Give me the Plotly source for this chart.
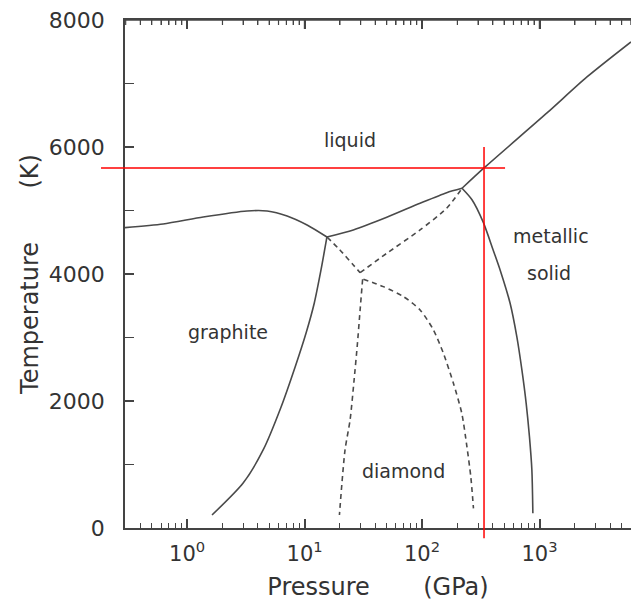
import numpy as np
import plotly.graph_objects as go

# ---------------- data (pressure in GPa, temperature in K) ----------------
graphite_melt_P = [0.296, 0.625, 1.37, 3.24, 4.8, 7.1, 10.5, 15.5]
graphite_melt_T = [4730, 4788, 4898, 4993, 4993, 4914, 4772, 4583]

graphite_diamond_P = [15.5, 13.8, 12.1, 10.3, 8.31, 6.31, 4.44, 3.0, 1.63]
graphite_diamond_T = [4583, 4064, 3544, 3071, 2536, 1906, 1229, 709, 205]

diamond_melt_P = [15.5, 26.0, 50.1, 96.2, 162, 219]
diamond_melt_T = [4583, 4694, 4893, 5114, 5281, 5350]

liquid_metal_P = [219, 337, 1158, 2535, 6010]
liquid_metal_T = [5350, 5670, 6536, 7103, 7655]

diamond_metal_P = [219, 267, 331, 403, 462, 562, 641, 708, 770, 821, 861, 878]
diamond_metal_T = [5350, 5166, 4820, 4379, 4064, 3539, 3013, 2489, 1964, 1438, 914, 231]

# metastable (dashed) boundaries
graphite_meta_P = [15.5, 20.0, 26.0, 29.7]
graphite_meta_T = [4583, 4379, 4142, 4021]

graphite_metal_meta_P = [29.7, 50.1, 96.2, 162, 219]
graphite_metal_meta_T = [4021, 4326, 4694, 5035, 5350]

diamond_meta_down_P = [31.2, 29.7, 28.2, 26.4, 24.4, 22.1, 19.8]
diamond_meta_down_T = [3917, 3434, 2909, 2331, 1701, 1229, 205]

diamond_meta_right_P = [31.7, 46.9, 69.5, 96.3, 125, 152, 185, 218, 241, 260, 274]
diamond_meta_right_T = [3917, 3801, 3643, 3434, 3119, 2751, 2279, 1806, 1281, 808, 310]

# red marker lines
red_P = 337
red_T = 5670
red_vertical_T = [-160, 6000]
red_horizontal_P = [0.185, 509]

# phase labels
label_text = ["liquid", "graphite", "diamond", "metallic", "solid"]
label_P = [24.4, 2.23, 69, 1256, 1208]
label_T = [6111, 3087, 898, 4599, 4016]

# axis ticks
x_major = [1, 10, 100, 1000]
x_major_text = ["10<sup>0</sup>", "10<sup>1</sup>", "10<sup>2</sup>", "10<sup>3</sup>"]
x_minor = [k * 10.0 ** d for d in range(-1, 4) for k in range(2, 10)]
y_major = [0, 2000, 4000, 6000, 8000]
y_minor = [1000, 3000, 5000, 7000]

x_range = [np.log10(0.296), np.log10(6010)]
y_range = [0, 8000]

FONT = "DejaVu Sans"
LINE = "#4a4a4a"
AX = "#444444"
TXT = "#333333"

fig = go.Figure()


def add_curve(P, T, dash):
    fig.add_trace(go.Scatter(
        x=P, y=T, mode="lines",
        line=dict(color=LINE, width=1.6, dash=dash, shape="spline", smoothing=0.7),
        hoverinfo="skip", showlegend=False))


add_curve(graphite_melt_P, graphite_melt_T, "solid")
add_curve(graphite_diamond_P, graphite_diamond_T, "solid")
add_curve(diamond_melt_P, diamond_melt_T, "solid")
add_curve(liquid_metal_P, liquid_metal_T, "solid")
add_curve(diamond_metal_P, diamond_metal_T, "solid")
add_curve(graphite_meta_P, graphite_meta_T, "5px,4px")
add_curve(graphite_metal_meta_P, graphite_metal_meta_T, "5px,4px")
add_curve(diamond_meta_down_P, diamond_meta_down_T, "5px,4px")
add_curve(diamond_meta_right_P, diamond_meta_right_T, "5px,4px")

# top frame line
fig.add_shape(type="line", xref="paper", yref="paper", x0=0, x1=1, y0=1, y1=1,
              line=dict(color=AX, width=1.5), layer="above")

# top ticks (inside, hanging down from the top frame)
top_tick_len = 9 / 508.0
top_minor_len = 5 / 508.0
for v in x_major:
    fig.add_shape(type="line", xref="x", yref="paper", x0=v, x1=v,
                  y0=1 - top_tick_len, y1=1, line=dict(color=AX, width=1.5), layer="above")
for v in x_minor:
    if 10 ** x_range[0] <= v <= 10 ** x_range[1]:
        fig.add_shape(type="line", xref="x", yref="paper", x0=v, x1=v,
                      y0=1 - top_minor_len, y1=1, line=dict(color=AX, width=1.2), layer="above")

# red cross lines
yspan = y_range[1] - y_range[0]
fig.add_shape(type="line", xref="x", yref="paper",
              x0=red_P, x1=red_P,
              y0=(red_vertical_T[0] - y_range[0]) / yspan,
              y1=(red_vertical_T[1] - y_range[0]) / yspan,
              line=dict(color="#ff0000", width=1.5), layer="above")
xspan = x_range[1] - x_range[0]
fig.add_shape(type="line", xref="paper", yref="y",
              x0=(np.log10(red_horizontal_P[0]) - x_range[0]) / xspan,
              x1=(np.log10(red_horizontal_P[1]) - x_range[0]) / xspan,
              y0=red_T, y1=red_T,
              line=dict(color="#ff0000", width=1.5), layer="above")

for t, p, T in zip(label_text, label_P, label_T):
    fig.add_annotation(x=np.log10(p), y=T, xref="x", yref="y", text=t,
                       showarrow=False, font=dict(family=FONT, size=19, color=TXT))

nb = "\u00a0"
fig.update_layout(
    width=631, height=601,
    margin=dict(l=125, r=0, t=20, b=73),
    paper_bgcolor="white", plot_bgcolor="white",
    font=dict(family=FONT, color=TXT),
    xaxis=dict(
        type="log", range=x_range,
        tickmode="array", tickvals=x_major, ticktext=x_major_text,
        ticks="inside", ticklen=9, tickwidth=1.5, tickcolor=AX,
        minor=dict(tickmode="array", tickvals=x_minor, ticks="inside",
                   ticklen=5, tickwidth=1.2, tickcolor=AX),
        showline=True, linecolor=AX, linewidth=1.5, mirror="ticks",
        showgrid=False, zeroline=False,
        tickfont=dict(family=FONT, size=21, color=TXT),
        ticklabelstandoff=6, ticklabeloverflow="allow",
        title=dict(text="Pressure" + nb * 7 + "(GPa)",
                   font=dict(family=FONT, size=24, color=TXT), standoff=13),
    ),
    yaxis=dict(
        range=y_range,
        tickmode="array", tickvals=y_major,
        ticks="inside", ticklen=9, tickwidth=1.5, tickcolor=AX,
        minor=dict(tickmode="array", tickvals=y_minor, ticks="inside",
                   ticklen=9, tickwidth=1.2, tickcolor=AX),
        showline=True, linecolor=AX, linewidth=1.5, mirror=False,
        showgrid=False, zeroline=False,
        tickfont=dict(family=FONT, size=22, color=TXT),
        ticklabelstandoff=14, ticklabeloverflow="allow",
        title=dict(text="Temperature" + nb * 7 + "(K)",
                   font=dict(family=FONT, size=24, color=TXT), standoff=3),
    ),
)

fig.write_html(
    "out.html",
    config={"displayModeBar": False},
    post_script="document.body.style.margin='0';document.body.style.overflow='hidden';",
)
